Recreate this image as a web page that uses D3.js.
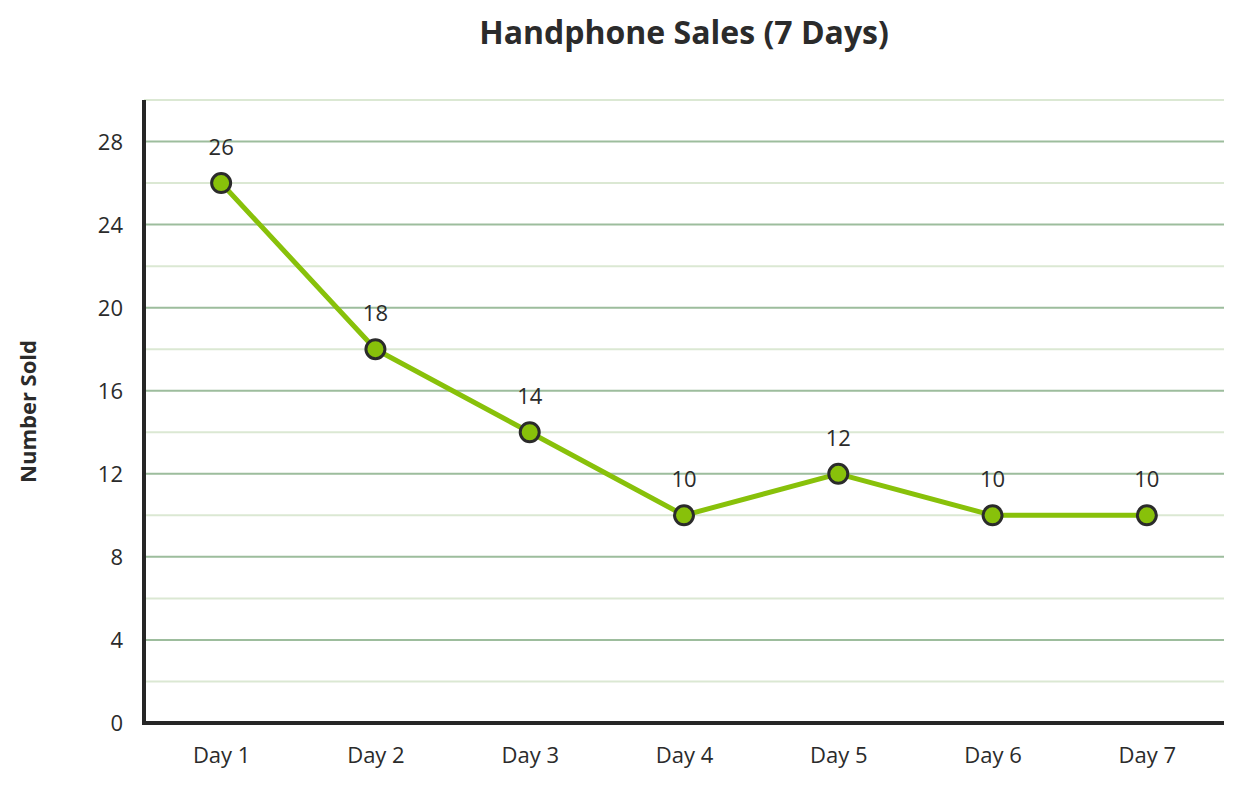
<!DOCTYPE html>
<html>
<head>
<meta charset="utf-8">
<script src="https://cdn.jsdelivr.net/npm/d3@7"></script>
<style>
  html, body { margin: 0; padding: 0; background: #fff; }
  svg text { font-family: "Segoe UI", "Open Sans", "Noto Sans", sans-serif; fill: #2b2b2b; }
</style>
</head>
<body>
<svg id="chart" width="1242" height="788"></svg>
<script>
// data
const days = ["Day 1", "Day 2", "Day 3", "Day 4", "Day 5", "Day 6", "Day 7"];
const sold = [26, 18, 14, 10, 12, 10, 10];
const majorTicks = [0, 4, 8, 12, 16, 20, 24, 28];
const minorTicks = [2, 6, 10, 14, 18, 22, 26, 30];

const width = 1242;
const height = 788;
const margin = { top: 100, right: 18, bottom: 65, left: 144 };

const svg = d3.select("#chart");

const x = d3
  .scalePoint()
  .domain(days)
  .range([margin.left, width - margin.right])
  .padding(0.5);

const y = d3
  .scaleLinear()
  .domain([0, 30])
  .range([height - margin.bottom, margin.top]);

// minor grid
svg
  .append("g")
  .selectAll("line")
  .data(minorTicks)
  .join("line")
  .attr("x1", margin.left)
  .attr("x2", width - margin.right)
  .attr("y1", d => y(d))
  .attr("y2", d => y(d))
  .attr("stroke", "#dbe8d3")
  .attr("stroke-width", 2);

// major grid
svg
  .append("g")
  .selectAll("line")
  .data(majorTicks.filter(d => d > 0))
  .join("line")
  .attr("x1", margin.left)
  .attr("x2", width - margin.right)
  .attr("y1", d => y(d))
  .attr("y2", d => y(d))
  .attr("stroke", "#9dbd9d")
  .attr("stroke-width", 2);

// y axis
const yAxis = svg
  .append("g")
  .attr("transform", `translate(${margin.left},0)`)
  .call(
    d3.axisLeft(y)
      .tickValues(majorTicks)
      .tickSize(0)
      .tickPadding(21)
  );
yAxis.select(".domain").remove();
yAxis.selectAll("text").attr("font-size", 22).attr("dy", "0.35em");

// x axis
const xAxis = svg
  .append("g")
  .attr("transform", `translate(0,${height - margin.bottom})`)
  .call(d3.axisBottom(x).tickSize(0).tickPadding(24));
xAxis.select(".domain").remove();
xAxis.selectAll("text").attr("font-size", 22);

// axis lines
svg
  .append("path")
  .attr(
    "d",
    `M${margin.left},${margin.top}V${height - margin.bottom}H${width - margin.right}`
  )
  .attr("fill", "none")
  .attr("stroke", "#262626")
  .attr("stroke-width", 4);

// line
const line = d3
  .line()
  .x((d, i) => x(days[i]))
  .y(d => y(d));

svg
  .append("path")
  .datum(sold)
  .attr("d", line)
  .attr("fill", "none")
  .attr("stroke", "#88c10a")
  .attr("stroke-width", 5)
  .attr("stroke-linejoin", "round");

// points
svg
  .append("g")
  .selectAll("circle")
  .data(sold)
  .join("circle")
  .attr("cx", (d, i) => x(days[i]))
  .attr("cy", d => y(d))
  .attr("r", 9.5)
  .attr("fill", "#88c10a")
  .attr("stroke", "#2b2b2b")
  .attr("stroke-width", 3);

// value labels
svg
  .append("g")
  .selectAll("text")
  .data(sold)
  .join("text")
  .attr("x", (d, i) => x(days[i]))
  .attr("y", d => y(d) - 28)
  .attr("text-anchor", "middle")
  .attr("font-size", 22)
  .text(d => d);

// title
svg
  .append("text")
  .attr("x", (margin.left + width - margin.right) / 2)
  .attr("y", 44)
  .attr("text-anchor", "middle")
  .attr("font-size", 32)
  .attr("font-weight", "bold")
  .text("Handphone Sales (7 Days)");

// y title
svg
  .append("text")
  .attr(
    "transform",
    `translate(36,${(margin.top + height - margin.bottom) / 2}) rotate(-90)`
  )
  .attr("text-anchor", "middle")
  .attr("font-size", 22)
  .attr("font-weight", "bold")
  .text("Number Sold");
</script>
</body>
</html>
